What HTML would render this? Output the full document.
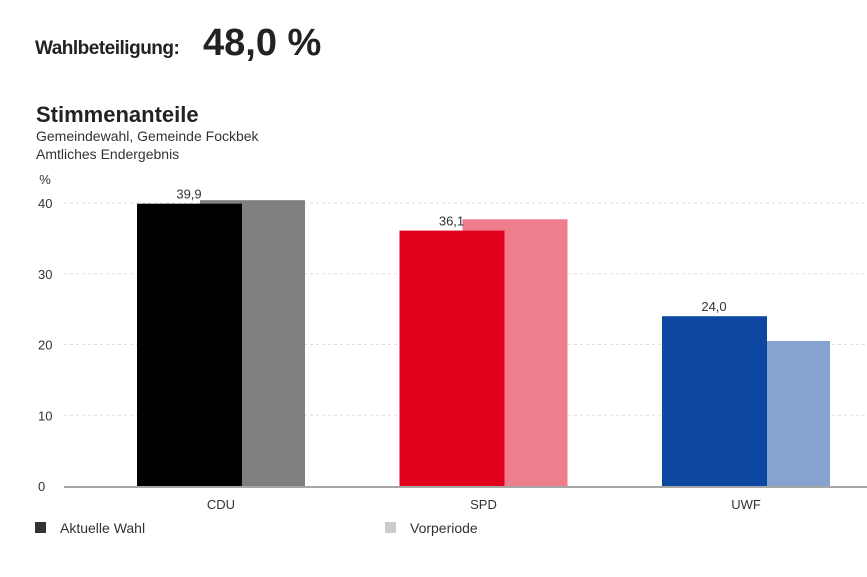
<!DOCTYPE html>
<html><head><meta charset="utf-8"><style>
body{margin:0;width:867px;height:577px;background:#fff;font-family:"Liberation Sans",sans-serif;color:#333;overflow:hidden;position:relative}
.t{position:absolute;white-space:nowrap}
</style></head><body>
<div class="t" style="left:35px;top:38px;font-size:19px;font-weight:bold;color:#222;letter-spacing:-0.5px">Wahlbeteiligung:</div>
<div class="t" style="left:203px;top:22px;font-size:38px;font-weight:bold;color:#222">48,0 %</div>
<div class="t" style="left:36px;top:102px;font-size:22px;font-weight:bold;color:#222">Stimmenanteile</div>
<div class="t" style="left:36px;top:128px;font-size:14px">Gemeindewahl, Gemeinde Fockbek</div>
<div class="t" style="left:36px;top:146px;font-size:14px">Amtliches Endergebnis</div>
<svg id="c" width="867" height="577" style="position:absolute;left:0;top:0"></svg>
<script>
const categories=["CDU","SPD","UWF"];
const current=[39.9,36.1,24.0];
const previous=[40.4,37.7,20.5];
const ticks=[0,10,20,30,40];
const curColors=["#000000","#e0001b","#0e47a1"];
const prevColors=["#808080","#ef7e8c","#86a3cf"];
const svg=document.getElementById('c');
const NS="http://www.w3.org/2000/svg";
const y=v=>486-v*7.075;
const gx=i=>137+i*262.5;
function mk(tag,a,txt){const e=document.createElementNS(NS,tag);for(const k in a)e.setAttribute(k,a[k]);if(txt!==undefined)e.textContent=txt;svg.appendChild(e);return e;}
let e=mk('text',{x:45,y:184,'font-size':13,fill:'#333','text-anchor':'middle'},'%');

ticks.forEach(t=>{
  if(t>0){const l=mk('line',{x1:64,x2:867,y1:y(t),y2:y(t),stroke:'#ddd','stroke-dasharray':'3,3'});
  }
  const tx=mk('text',{x:38,y:y(t)+5,'font-size':13,fill:'#333'},String(t));
  
});
categories.forEach((c,i)=>{
  const x=gx(i);
  const p=mk('rect',{x:x+63,y:y(previous[i]),width:105,height:486-y(previous[i]),fill:prevColors[i]});
  
  const b=mk('rect',{x:x,y:y(current[i]),width:105,height:486-y(current[i]),fill:curColors[i]});
  
  const v=mk('text',{x:x+52,y:y(current[i])-5,'font-size':13,fill:'#333','text-anchor':'middle'},current[i].toFixed(1).replace('.',','));
  
  const cl=mk('text',{x:x+84,y:509,'font-size':13,fill:'#333','text-anchor':'middle'},c);
  
});
const ax=mk('line',{x1:64,x2:867,y1:487,y2:487,stroke:'#888','stroke-width':1.5});

let r=mk('rect',{x:35,y:522,width:11,height:11,fill:'#333'});

let lt=mk('text',{x:60,y:533,'font-size':14,fill:'#333'},'Aktuelle Wahl');

r=mk('rect',{x:385,y:522,width:11,height:11,fill:'#ccc'});

lt=mk('text',{x:410,y:533,'font-size':14,fill:'#333'},'Vorperiode');

</script>
</body></html>
